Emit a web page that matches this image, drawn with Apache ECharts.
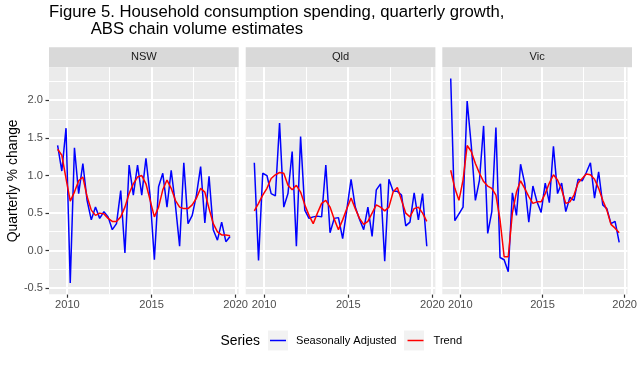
<!DOCTYPE html>
<html><head><meta charset="utf-8">
<script src="https://cdn.jsdelivr.net/npm/echarts@6/dist/echarts.min.js"></script>
<style>html,body{margin:0;padding:0;background:#fff}#c{width:640px;height:365px}</style>
</head><body><div id="c"></div>
<script>
const quarters = [
  '2009-06','2009-09','2009-12',
  '2010-03','2010-06','2010-09','2010-12',
  '2011-03','2011-06','2011-09','2011-12',
  '2012-03','2012-06','2012-09','2012-12',
  '2013-03','2013-06','2013-09','2013-12',
  '2014-03','2014-06','2014-09','2014-12',
  '2015-03','2015-06','2015-09','2015-12',
  '2016-03','2016-06','2016-09','2016-12',
  '2017-03','2017-06','2017-09','2017-12',
  '2018-03','2018-06','2018-09','2018-12',
  '2019-03','2019-06','2019-09'
];
const states = ['NSW', 'Qld', 'Vic'];
const nswSA = [1.40,1.06,1.63,-0.43,1.37,0.76,1.16,0.67,0.41,0.58,0.43,0.52,0.45,0.28,0.36,0.80,-0.03,1.14,0.74,1.14,0.74,1.23,0.72,-0.12,0.85,1.03,0.58,1.07,0.61,0.06,1.17,0.36,0.47,0.74,1.12,0.37,0.99,0.28,0.14,0.38,0.12,0.19];
const nswTrend = [1.35,1.27,0.96,0.66,0.78,0.93,0.98,0.72,0.54,0.47,0.50,0.49,0.43,0.39,0.39,0.45,0.58,0.76,0.89,0.98,1.00,0.89,0.67,0.45,0.58,0.81,0.94,0.83,0.67,0.58,0.56,0.56,0.61,0.70,0.83,0.78,0.56,0.36,0.25,0.21,0.21,0.20];
const qldSA = [1.17,-0.13,1.03,1.00,0.76,0.73,1.70,0.58,0.76,1.32,0.06,1.52,0.54,0.43,0.45,0.46,0.45,1.14,0.24,0.43,0.44,0.16,0.55,0.95,0.58,0.42,0.28,0.58,0.19,0.81,0.89,-0.14,0.95,0.79,0.79,0.74,0.33,0.38,0.77,0.41,0.76,0.06];
const qldTrend = [0.53,0.63,0.74,0.83,0.96,1.01,1.04,1.03,0.87,0.81,0.87,0.78,0.61,0.47,0.36,0.50,0.63,0.67,0.58,0.42,0.28,0.41,0.56,0.70,0.56,0.43,0.35,0.39,0.50,0.61,0.58,0.53,0.58,0.78,0.84,0.67,0.50,0.45,0.56,0.58,0.50,0.39];
const vicSA = [2.29,0.40,0.49,0.58,1.99,1.40,0.67,0.94,1.66,0.23,0.52,1.64,-0.09,-0.12,-0.28,0.77,0.47,1.15,0.90,0.38,0.86,0.65,0.51,0.90,0.64,1.39,0.76,0.90,0.52,0.71,0.67,0.95,0.93,1.04,1.17,0.70,1.05,0.61,0.56,0.36,0.39,0.11];
const vicTrend = [1.07,0.83,0.67,0.94,1.40,1.32,1.16,1.03,0.92,0.86,0.83,0.74,0.41,-0.08,-0.08,0.50,0.78,0.93,0.83,0.72,0.63,0.65,0.65,0.76,0.90,1.01,0.94,0.81,0.63,0.65,0.74,0.90,0.96,1.02,1.01,0.95,0.83,0.67,0.54,0.35,0.30,0.24];
const saSeries = [nswSA, qldSA, vicSA];
const trendSeries = [nswTrend, qldTrend, vicTrend];
const seriesNames = ['Seasonally Adjusted', 'Trend'];
const seriesColors = ['#0000ff', '#ff0000'];
const xTicks = [2010, 2015, 2020];
const xMinorTicks = [2012.5, 2017.5];
const yTicks = [-0.5, 0, 0.5, 1, 1.5, 2];
const yMinorTicks = [-0.25, 0.25, 0.75, 1.25, 1.75, 2.25];

const FONT = '"Liberation Sans", Arial, Helvetica, sans-serif';
const toYear = q => { const [y, m] = q.split('-').map(Number); return y + (m - 1) / 12; };
const xs = quarters.map(toYear);
const xr = xs[xs.length - 1] - xs[0];
const xMin = xs[0] - 0.05 * xr, xMax = xs[xs.length - 1] + 0.05 * xr;
const yMin = -0.58, yMax = 2.44;

const panelLeft = [49, 245.7, 442.3], panelW = 189.7, panelTop = 67.3, panelH = 227;
const stripH = 20;

// one item per panel: background plus white grid lines at the tick values
const renderPanel = (params, api) => {
  const a = api.coord([xMin, yMax]), b = api.coord([xMax, yMin]);
  const children = [{type: 'rect', z2: 0, shape: {x: a[0], y: a[1], width: b[0] - a[0], height: b[1] - a[1]}, style: {fill: '#ebebeb'}}];
  const vLine = (v, w, z2) => {
    const px = Math.round(api.coord([v, yMin])[0] - w / 2);
    children.push({type: 'rect', z2: z2, shape: {x: px, y: a[1], width: w, height: b[1] - a[1]}, style: {fill: '#ffffff'}});
  };
  const hLine = (v, w, z2) => {
    const py = Math.round(api.coord([xMin, v])[1] - w / 2);
    children.push({type: 'rect', z2: z2, shape: {x: a[0], y: py, width: b[0] - a[0], height: w}, style: {fill: '#ffffff'}});
  };
  xMinorTicks.forEach(v => vLine(v, 1, 1));
  yMinorTicks.forEach(v => hLine(v, 1, 1));
  xTicks.forEach(v => vLine(v, 2, 2));
  yTicks.forEach(v => hLine(v, 2, 2));
  return {type: 'group', children: children, silent: true};
};

const grids = [], xAxes = [], yAxes = [], series = [], graphics = [];
states.forEach((st, i) => {
  grids.push({left: panelLeft[i], top: panelTop, width: panelW, height: panelH, show: false});
  xAxes.push({type: 'value', gridIndex: i, min: xMin, max: xMax, position: 'bottom',
    axisLine: {show: false, onZero: false},
    axisTick: {show: true, customValues: xTicks, length: 3.5, lineStyle: {color: '#333333', width: 1.2}},
    axisLabel: {show: true, customValues: xTicks, margin: 5, fontSize: 11.1, color: '#4d4d4d', fontFamily: FONT, formatter: v => String(v)},
    splitLine: {show: false}});
  yAxes.push({type: 'value', gridIndex: i, min: yMin, max: yMax, position: 'left',
    axisLine: {show: false, onZero: false},
    axisTick: {show: i === 0, customValues: yTicks, length: 3.5, lineStyle: {color: '#333333', width: 1.2}},
    axisLabel: {show: i === 0, customValues: yTicks, margin: 6, fontSize: 11.1, color: '#4d4d4d', fontFamily: FONT, formatter: v => v.toFixed(1)},
    name: i === 0 ? 'Quarterly % change' : '', nameLocation: 'middle', nameGap: 29,
    nameTextStyle: {fontSize: 13.9, color: '#000', fontFamily: FONT},
    splitLine: {show: false}});
  series.push({type: 'custom', xAxisIndex: i, yAxisIndex: i, data: [[xMin, yMin]], renderItem: renderPanel,
    silent: true, z: 1, clip: false});
  [saSeries[i], trendSeries[i]].forEach((vals, s) => {
    series.push({type: 'line', name: seriesNames[s], xAxisIndex: i, yAxisIndex: i,
      data: vals.map((v, k) => [xs[k], v]), symbol: 'none', showSymbol: false, color: seriesColors[s],
      lineStyle: {color: seriesColors[s], width: 1.5}, itemStyle: {color: seriesColors[s]}, z: 3 + s, silent: true});
  });
  graphics.push({type: 'rect', shape: {x: panelLeft[i], y: panelTop - stripH, width: panelW, height: stripH}, style: {fill: '#d9d9d9'}, silent: true});
  graphics.push({type: 'text', x: panelLeft[i] + panelW / 2, y: panelTop - stripH / 2, style: {text: st, fill: '#1a1a1a', font: '11.1px ' + FONT, textAlign: 'center', textVerticalAlign: 'middle'}, silent: true});
});
graphics.push({type: 'rect', shape: {x: 268, y: 330.5, width: 20, height: 20}, style: {fill: '#f2f2f2'}, z: -10, silent: true});
graphics.push({type: 'rect', shape: {x: 404, y: 330.5, width: 20, height: 20}, style: {fill: '#f2f2f2'}, z: -10, silent: true});
graphics.push({type: 'text', x: 220.5, y: 341, style: {text: 'Series', fill: '#000', font: '13.9px ' + FONT, textVerticalAlign: 'middle'}, silent: true});

const chart = echarts.init(document.getElementById('c'), null, {renderer: 'canvas'});
chart.setOption({
  animation: false,
  backgroundColor: '#ffffff',
  title: [
    {text: 'Figure 5. Household consumption spending, quarterly growth,', left: 49, top: 4, padding: 0,
     textStyle: {fontSize: 16.7, fontWeight: 'normal', color: '#000', fontFamily: FONT}},
    {text: 'ABS chain volume estimates', left: 90.7, top: 21, padding: 0,
     textStyle: {fontSize: 16.7, fontWeight: 'normal', color: '#000', fontFamily: FONT}}
  ],
  legend: {data: seriesNames, left: 270, top: 335, orient: 'horizontal', icon: 'rect', itemWidth: 16, itemHeight: 1.5, itemGap: 11, padding: 0,
    textStyle: {fontSize: 11.1, color: '#000', fontFamily: FONT, padding: [0, 0, 0, 5]}, selectedMode: false},
  grid: grids,
  xAxis: xAxes,
  yAxis: yAxes,
  series: series,
  graphic: graphics
});
</script></body></html>
